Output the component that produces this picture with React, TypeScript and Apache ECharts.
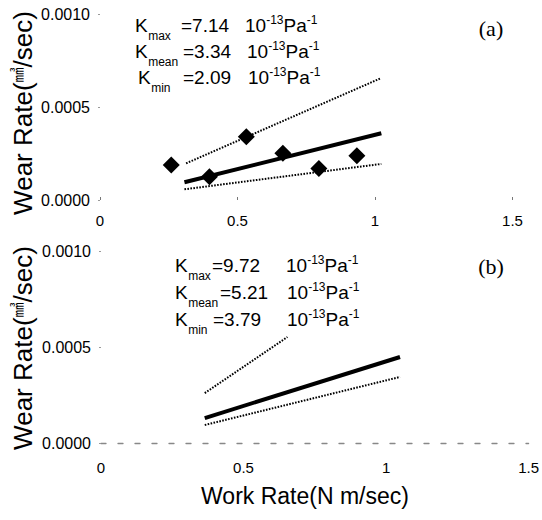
import React, { useEffect, useRef } from "react";
import * as echarts from "echarts";

// ---- Data ----
// Panel (a): measured points
const pointsAX = [0.259, 0.398, 0.532, 0.665, 0.796, 0.934];
const pointsAY = [0.000188, 0.000125, 0.00034, 0.000251, 0.00017, 0.000238];
// Panel (a): fitted lines (end points)
const meanAX = [0.307, 1.023];
const meanAY = [0.0000952, 0.000359];
const maxAX = [0.313, 1.02];
const maxAY = [0.000197, 0.000654];
const minAX = [0.307, 1.023];
const minAY = [0.0000575, 0.000194];
// Panel (b): fitted lines (end points)
const meanBX = [0.364, 1.049];
const meanBY = [0.00013, 0.000448];
const maxBX = [0.364, 0.654];
const maxBY = [0.00026, 0.000552];
const minBX = [0.364, 1.049];
const minBY = [0.0000938, 0.000344];
// K coefficients
const kSubs = ["max", "mean", "min"];
const kValuesA = ["7.14", "3.34", "2.09"];
const kValuesB = ["9.72", "5.21", "3.79"];
const panelTags = ["(a)", "(b)"];
const yTitleMain = ["Wear Rate(", "/sec)"];
const yTitleUnit = "㎣";
const xTitle = "Work Rate(N m/sec)";

const FONT = "Liberation Sans";
const SERIF = "Liberation Serif";

const pairs = (xs: number[], ys: number[]) => xs.map((x, i) => [x, ys[i]]);

function measure(text: string, size: number) {
  const c = document.createElement("canvas").getContext("2d");
  if (!c) return text.length * size * 0.55;
  c.font = `${size}px "Liberation Sans"`;
  return c.measureText(text).width;
}

function txt(x: number, y: number, text: string, size: number, family = FONT) {
  return {
    type: "text",
    x,
    y,
    silent: true,
    style: {
      text,
      fill: "#000",
      fontSize: size,
      fontFamily: family,
      align: "left",
      verticalAlign: "middle",
    },
  };
}

function kRow(xK: number, xEq: number, x10: number, yc: number, sub: string, val: string) {
  const big = 19;
  const small = 12;
  const wK = measure("K", big);
  const w10 = measure("10", big);
  const w13 = measure("-13", small);
  const wPa = measure("Pa", big);
  return [
    txt(xK, yc, "K", big),
    txt(xK + wK + 0.5, yc + 11, sub, small),
    txt(xEq, yc, "=" + val, big),
    txt(x10, yc, "10", big),
    txt(x10 + w10, yc - 5, "-13", small),
    txt(x10 + w10 + w13, yc, "Pa", big),
    txt(x10 + w10 + w13 + wPa, yc - 5, "-1", small),
  ];
}

function yTitle(cx: number, cy: number) {
  return {
    type: "text",
    x: cx,
    y: cy,
    rotation: Math.PI / 2,
    silent: true,
    style: {
      text: `{a|${yTitleMain[0]}}{b|${yTitleUnit}}{a|${yTitleMain[1]}}`,
      align: "center",
      verticalAlign: "middle",
      fill: "#000",
      rich: {
        a: { fontSize: 26, fontFamily: FONT, lineHeight: 28, verticalAlign: "middle", fill: "#000" },
        b: { fontSize: 15, fontFamily: "Noto Sans CJK SC", lineHeight: 15, verticalAlign: "top", fill: "#000" },
      },
    },
  };
}

export default function App() {
  const ref = useRef<HTMLDivElement>(null);
  useEffect(() => {
    if (!ref.current) return;
    const chart = echarts.init(ref.current, undefined, { renderer: "svg" });

    const rowsA = [
      { xK: 135, xEq: 181, x10: 245, y: 25 },
      { xK: 135, xEq: 183, x10: 247, y: 51 },
      { xK: 138, xEq: 183, x10: 248, y: 77 },
    ];
    const rowsB = [
      { xK: 175, xEq: 212, x10: 286, y: 265 },
      { xK: 175, xEq: 220, x10: 287, y: 292 },
      { xK: 175, xEq: 213, x10: 287, y: 319 },
    ];
    const graphic: any[] = [];
    rowsA.forEach((r, i) => graphic.push(...kRow(r.xK, r.xEq, r.x10, r.y, kSubs[i], kValuesA[i])));
    rowsB.forEach((r, i) => graphic.push(...kRow(r.xK, r.xEq, r.x10, r.y, kSubs[i], kValuesB[i])));
    graphic.push({
      type: "text", x: 491, y: 28, silent: true,
      style: { text: panelTags[0], fontSize: 22, fontFamily: SERIF, fill: "#000", align: "center", verticalAlign: "middle" },
    });
    graphic.push({
      type: "text", x: 491, y: 266, silent: true,
      style: { text: panelTags[1], fontSize: 22, fontFamily: SERIF, fill: "#000", align: "center", verticalAlign: "middle" },
    });
    graphic.push(yTitle(23, 113));
    graphic.push(yTitle(23, 348));
    graphic.push({
      type: "text", x: 305, y: 496, silent: true,
      style: { text: xTitle, fontSize: 23, fontFamily: FONT, fill: "#000", align: "center", verticalAlign: "middle" },
    });

    const xAxisBase = (gridIndex: number, margin: number) => ({
      gridIndex,
      type: "value",
      min: 0,
      max: 1.5,
      interval: 0.5,
      splitLine: { show: false },
      axisLabel: { margin, fontSize: 15, color: "#000", fontFamily: FONT },
    });
    const yAxisBase = (gridIndex: number) => ({
      gridIndex,
      type: "value",
      min: 0,
      max: 0.001,
      interval: 0.0005,
      splitLine: { show: false },
      axisLine: { show: false },
      axisTick: { show: true, length: 2, lineStyle: { color: "#999" } },
      axisLabel: {
        margin: 10,
        fontSize: 16,
        color: "#000",
        fontFamily: FONT,
        formatter: (v: number) => v.toFixed(4),
      },
    });

    const lineSeries = (idx: number, xs: number[], ys: number[], width: number, dotted: boolean) => ({
      type: "line",
      xAxisIndex: idx,
      yAxisIndex: idx,
      data: pairs(xs, ys),
      symbol: "none",
      lineStyle: { color: "#000", width, type: dotted ? [1.6, 1.4] : "solid" },
      silent: true,
    });

    chart.setOption({
      animation: false,
      grid: [
        { left: 100, top: 14, width: 412.5, height: 186 },
        { left: 101, top: 251, width: 429, height: 192 },
      ],
      xAxis: [
        {
          ...xAxisBase(0, 13),
          axisLine: { show: false },
          axisTick: { show: true, inside: true, length: 3, lineStyle: { color: "#777" } },
        },
        {
          ...xAxisBase(1, 17),
          axisLine: { show: true, lineStyle: { type: [5, 12], color: "#888", width: 1.3 } },
          axisTick: { show: false },
        },
      ],
      yAxis: [yAxisBase(0), yAxisBase(1)],
      series: [
        lineSeries(0, maxAX, maxAY, 2, true),
        lineSeries(0, minAX, minAY, 2, true),
        lineSeries(0, meanAX, meanAY, 4, false),
        {
          type: "scatter",
          xAxisIndex: 0,
          yAxisIndex: 0,
          data: pairs(pointsAX, pointsAY),
          symbol: "diamond",
          symbolSize: [17, 17],
          itemStyle: { color: "#000", opacity: 1 },
          z: 5,
          silent: true,
        },
        lineSeries(1, maxBX, maxBY, 2, true),
        lineSeries(1, minBX, minBY, 2, true),
        lineSeries(1, meanBX, meanBY, 4, false),
      ],
      graphic,
    });
    return () => chart.dispose();
  }, []);
  return (
    <div
      ref={ref}
      style={{ position: "absolute", left: 0, top: 0, width: 542, height: 520, background: "#fff" }}
    />
  );
}
